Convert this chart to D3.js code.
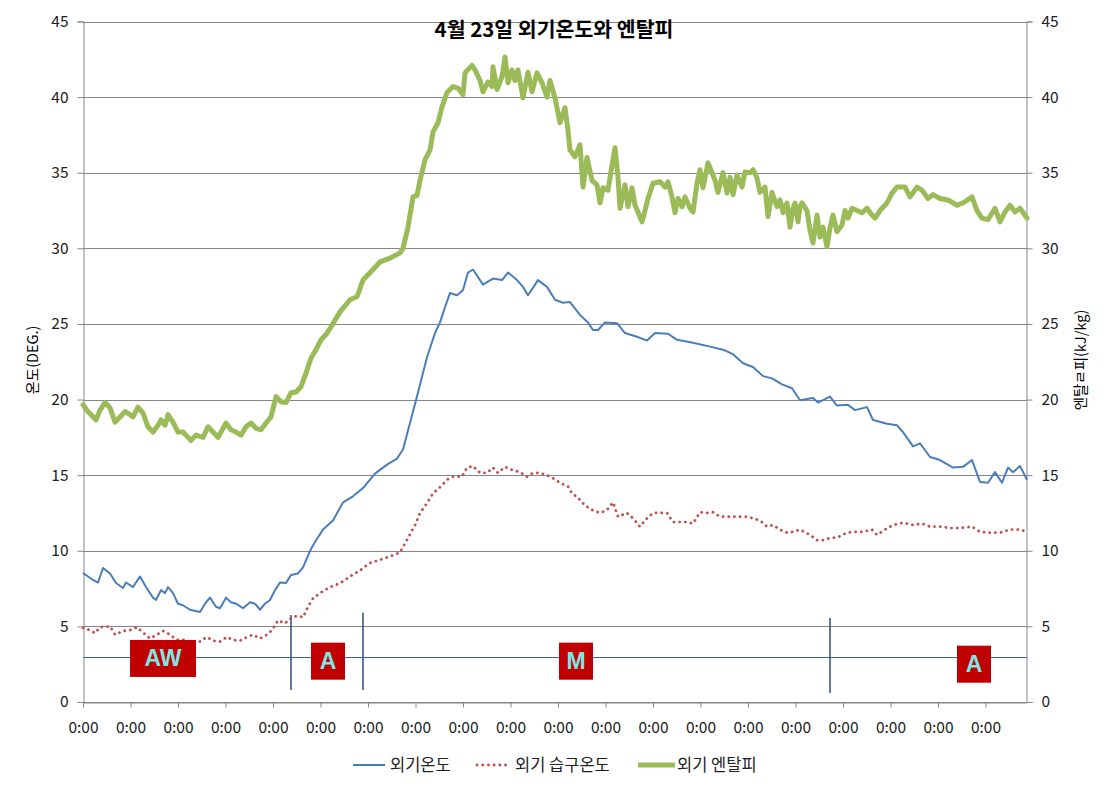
<!DOCTYPE html>
<html><head><meta charset="utf-8">
<script src="https://cdn.jsdelivr.net/npm/d3@7"></script>
<style>
body{margin:0;background:#fff;}
text{font-family:"Noto Sans CJK KR","Noto Sans",sans-serif;}
</style></head>
<body><svg id="c" width="1110" height="788"></svg>
<script>
const title = "4월 23일 외기온도와 엔탈피";
const leftAxisTitle = "온도(DEG.)";
const rightAxisTitle = "엔탈ㄹ피(kJ/kg)";
const seriesNames = ["외기온도", "외기 습구온도", "외기 엔탈피"];
const xTickLabels = Array(20).fill("0:00");
const xTickStep = 47.5;       // samples between category labels
const xSampleCount = 944;
const yTicks = [0,5,10,15,20,25,30,35,40,45];

// [sample index, value]
const outdoorTemp = [[0,8.53],[10,8.07],[15,7.9],[20,8.86],[27,8.5],[33,7.87],[40,7.54],[43,7.9],[50,7.6],[57,8.3],[63,7.6],[70,6.9],[73,6.75],[78,7.4],[82,7.2],[85,7.6],[90,7.2],[95,6.5],[100,6.4],[107,6.1],[117,5.95],[122,6.5],[127,6.9],[133,6.3],[137,6.2],[143,6.9],[148,6.6],[153,6.5],[160,6.2],[167,6.6],[172,6.5],[177,6.1],[182,6.5],[187,6.75],[192,7.4],[197,7.9],[203,7.87],[208,8.4],[215,8.5],[220,8.9],[227,10.0],[233,10.7],[240,11.4],[250,12.0],[260,13.2],[270,13.6],[280,14.15],[292,15.1],[304,15.7],[314,16.1],[320,16.7],[327,18.45],[334,20.2],[344,22.8],[352,24.4],[357,25.1],[362,26.1],[367,27.05],[374,26.9],[380,27.25],[385,28.4],[390,28.6],[400,27.6],[410,28.0],[419,27.9],[425,28.4],[434,27.9],[440,27.45],[445,26.9],[455,27.9],[464,27.45],[472,26.6],[480,26.4],[487,26.45],[497,25.6],[505,25.1],[510,24.6],[515,24.6],[522,25.1],[534,25.05],[542,24.4],[554,24.15],[564,23.9],[572,24.4],[585,24.35],[594,23.95],[610,23.75],[627,23.5],[640,23.3],[650,23.0],[660,22.4],[670,22.15],[680,21.55],[689,21.4],[699,21.0],[709,20.75],[717,19.95],[730,20.1],[735,19.8],[747,20.2],[754,19.6],[765,19.65],[772,19.3],[784,19.5],[790,18.65],[804,18.4],[814,18.3],[820,17.85],[830,16.9],[837,17.1],[847,16.2],[857,16.0],[870,15.5],[880,15.55],[889,16.0],[897,14.55],[905,14.5],[912,15.2],[919,14.5],[925,15.5],[930,15.2],[937,15.6],[944,14.7]];

const wetBulbTemp = [[0,4.9],[7,4.75],[12,4.55],[17,4.95],[27,5.0],[32,4.45],[40,4.7],[47,4.75],[54,4.95],[60,4.6],[67,4.2],[74,4.45],[80,4.7],[87,4.45],[94,4.1],[102,4.1],[110,3.9],[117,4.0],[124,4.3],[130,4.05],[137,4.0],[144,4.3],[150,4.1],[157,4.05],[164,4.3],[170,4.45],[177,4.2],[184,4.45],[189,4.75],[195,5.4],[202,5.2],[209,5.6],[215,5.7],[220,5.6],[225,6.3],[230,6.85],[237,7.2],[247,7.6],[257,7.85],[267,8.3],[277,8.7],[287,9.2],[297,9.4],[310,9.7],[317,9.9],[325,10.85],[332,11.7],[337,12.5],[344,13.15],[350,13.8],[357,14.2],[364,14.7],[370,14.9],[379,14.9],[384,15.5],[390,15.6],[397,15.15],[404,15.15],[410,15.5],[415,15.15],[422,15.55],[429,15.35],[437,15.2],[444,14.9],[450,15.15],[457,15.15],[464,15.0],[470,14.8],[477,14.5],[485,14.25],[489,13.8],[495,13.5],[502,13.0],[509,12.7],[517,12.5],[524,12.7],[530,13.2],[535,12.25],[544,12.5],[550,12.15],[557,11.6],[564,12.15],[570,12.5],[577,12.5],[584,12.5],[590,11.9],[597,11.9],[604,11.9],[610,11.8],[617,12.55],[624,12.5],[630,12.55],[637,12.25],[644,12.25],[650,12.25],[657,12.25],[664,12.25],[670,12.15],[677,12.0],[684,11.6],[690,11.7],[697,11.4],[704,11.2],[710,11.25],[717,11.4],[727,11.05],[734,10.7],[740,10.7],[747,10.85],[755,10.9],[764,11.2],[772,11.25],[780,11.25],[789,11.4],[794,11.05],[802,11.4],[810,11.7],[820,11.85],[830,11.7],[839,11.8],[847,11.6],[857,11.6],[867,11.5],[877,11.5],[889,11.6],[897,11.25],[907,11.2],[917,11.2],[927,11.4],[937,11.4],[944,11.25]];

const enthalpy = [[0,19.65],[5,19.2],[8,19.0],[13,18.65],[17,19.3],[22,19.8],[27,19.45],[32,18.5],[37,18.85],[42,19.2],[47,19.0],[50,18.85],[55,19.5],[60,19.1],[65,18.2],[70,17.85],[75,18.3],[78,18.65],[82,18.3],[85,19.0],[90,18.5],[95,17.85],[100,17.85],[105,17.5],[108,17.3],[113,17.65],[120,17.5],[125,18.2],[130,17.85],[135,17.5],[138,17.85],[143,18.45],[148,18.0],[153,17.85],[158,17.65],[163,18.2],[168,18.45],[173,18.1],[178,18.0],[183,18.45],[188,18.85],[193,20.2],[198,19.85],[203,19.8],[208,20.45],[213,20.5],[218,20.85],[223,21.75],[228,22.75],[233,23.3],[238,23.95],[243,24.3],[248,24.8],[257,25.8],[267,26.6],[274,26.8],[280,27.9],[290,28.6],[297,29.1],[307,29.35],[317,29.7],[320,30.0],[325,31.4],[330,33.4],[334,33.5],[337,34.5],[342,35.85],[347,36.5],[350,37.7],[355,38.3],[359,39.35],[364,40.3],[370,40.7],[375,40.6],[380,40.15],[382,41.6],[389,42.1],[392,41.8],[397,41.1],[400,40.35],[405,41.0],[409,40.7],[410,42.0],[414,40.5],[419,41.35],[422,42.65],[425,40.95],[429,41.8],[432,41.1],[435,41.8],[440,39.95],[445,41.65],[449,40.35],[454,41.6],[459,40.95],[464,40.0],[467,41.1],[472,39.95],[477,38.3],[482,39.3],[485,37.8],[487,36.5],[492,36.05],[497,36.85],[500,34.05],[504,36.0],[509,34.5],[514,34.2],[517,33.0],[520,34.0],[525,33.85],[529,35.5],[532,36.65],[535,34.7],[537,32.65],[542,34.2],[545,32.75],[549,34.0],[552,32.85],[555,32.4],[559,31.75],[562,32.5],[565,33.3],[570,34.3],[577,34.4],[582,34.05],[585,34.4],[589,33.4],[592,32.35],[595,33.3],[599,32.75],[602,33.4],[607,32.65],[610,32.4],[614,34.3],[617,35.2],[620,34.0],[625,35.65],[629,35.0],[632,34.5],[635,33.7],[640,35.0],[644,33.65],[647,34.7],[650,33.55],[654,34.85],[659,34.05],[662,35.05],[667,35.0],[670,35.2],[674,34.65],[677,33.7],[682,34.05],[685,32.1],[689,33.7],[694,32.75],[697,33.2],[700,32.35],[704,33.0],[707,31.4],[710,32.65],[712,33.0],[715,31.75],[717,32.75],[719,33.0],[724,32.5],[727,31.2],[730,30.35],[734,32.2],[737,30.75],[740,31.4],[744,30.1],[747,31.35],[750,32.2],[754,31.1],[759,31.55],[762,32.5],[765,32.0],[769,32.65],[774,32.5],[779,32.35],[784,32.65],[789,32.2],[792,32.0],[797,32.5],[804,33.0],[809,33.65],[814,34.05],[822,34.05],[827,33.4],[834,34.05],[839,33.85],[845,33.3],[850,33.55],[857,33.3],[865,33.2],[874,32.85],[880,33.0],[889,33.4],[894,32.5],[899,32.0],[905,31.9],[912,32.65],[917,31.75],[922,32.4],[927,32.85],[932,32.4],[937,32.65],[944,32.0]];

const refLevel = 3;
const markerLines = [[208,5.75,0.8],[280,5.9,0.8],[747,5.55,0.6]]; // [sample, top, bottom]
const modeLabels = ["AW","A","M","A"];
const modeX = [80,245,493,891];
const modeY = [2.88,2.7,2.7,2.5];

const svg = d3.select("#c");
const x = d3.scaleLinear().domain([0, xSampleCount]).range([83, 1027]);
const yL = d3.scaleLinear().domain([0,45]).range([702, 21.5]);
const yR = d3.scaleLinear().domain([0,45]).range([702, 21.5]);
const gridC = "#878787";

// gridlines
svg.append("g").selectAll("line").data(yTicks).join("line")
  .attr("x1", 83).attr("x2", 1027).attr("y1", d=>Math.round(yL(d))+0.5).attr("y2", d=>Math.round(yL(d))+0.5)
  .attr("stroke", gridC).attr("stroke-width", 1);

// axes
const axL = svg.append("g").attr("transform","translate(83.5,0)")
  .call(d3.axisLeft(yL).tickValues(yTicks).tickSize(6).tickPadding(9));
const axR = svg.append("g").attr("transform","translate(1026.5,0)")
  .call(d3.axisRight(yR).tickValues(yTicks).tickSize(6).tickPadding(9));
const xTickVals = xTickLabels.map((_, i) => i * xTickStep);
const axB = svg.append("g").attr("transform","translate(0,702.5)")
  .call(d3.axisBottom(x).tickValues(xTickVals).tickFormat((d,i)=>xTickLabels[i]).tickSize(5).tickPadding(14));
[axL, axR, axB].forEach(a => {
  a.select(".domain").attr("stroke", gridC);
  a.selectAll(".tick line").attr("stroke", gridC);
  a.selectAll(".tick text").attr("fill", "#222").style("font-size","15.5px")
   .style("font-family", '"Noto Sans CJK KR","Noto Sans",sans-serif');
});
axB.select(".domain").attr("d", "M83,0.5H1027");

// reference line and markers
svg.append("line").attr("x1", 83).attr("x2", 1027)
  .attr("y1", Math.round(yL(refLevel))+0.5).attr("y2", Math.round(yL(refLevel))+0.5)
  .attr("stroke", "#3E6594").attr("stroke-width", 1.2);
svg.append("g").selectAll("line").data(markerLines).join("line")
  .attr("x1", d=>x(d[0])).attr("x2", d=>x(d[0])).attr("y1", d=>yL(d[1])).attr("y2", d=>yL(d[2]))
  .attr("stroke", "#2F4C78").attr("stroke-width", 1.5);

// series
const lineL = d3.line().x(d=>x(d[0])).y(d=>yL(d[1]));
const lineR = d3.line().x(d=>x(d[0])).y(d=>yR(d[1]));
svg.append("path").datum(wetBulbTemp).attr("d", lineL).attr("fill","none")
  .attr("stroke","#C0504D").attr("stroke-width",2.8).attr("stroke-linecap","round").attr("stroke-dasharray","0.1,5.6");
svg.append("path").datum(outdoorTemp).attr("d", lineL).attr("fill","none")
  .attr("stroke","#4A7EBB").attr("stroke-width",2).attr("stroke-linejoin","round");
svg.append("path").datum(enthalpy).attr("d", lineR).attr("fill","none")
  .attr("stroke","#9BBB59").attr("stroke-width",5).attr("stroke-linejoin","round").attr("stroke-linecap","round");

// mode boxes
const bw = [66,34,34,34];
const bg = svg.append("g");
modeLabels.forEach((lab, i) => {
  const cx = x(modeX[i]), cy = yL(modeY[i]);
  bg.append("rect").attr("x", cx - bw[i]/2).attr("y", cy - 18.5).attr("width", bw[i]).attr("height", 37)
    .attr("fill", "#C00000");
  bg.append("text").attr("x", cx).attr("y", cy + 8).attr("text-anchor","middle")
    .attr("fill","#7FE6E6").style("font-family",'"Liberation Sans",Arial,sans-serif')
    .style("font-weight","bold").style("font-size","23px").text(lab);
});

// titles
svg.append("text").attr("x", 554).attr("y", 37).attr("text-anchor","middle")
  .style("font-size","20.5px").style("font-weight","bold").attr("fill","#000").text(title);
svg.append("text").attr("transform","translate(38,360) rotate(-90)").attr("text-anchor","middle")
  .style("font-size","14.5px").attr("fill","#000").text(leftAxisTitle);
svg.append("text").attr("transform","translate(1086,360) rotate(-90)").attr("text-anchor","middle")
  .style("font-size","14.5px").attr("fill","#000").text(rightAxisTitle);

// legend
const lg = svg.append("g");
const legItems = [
  {x1:353, x2:385, tx:390, stroke:"#4A7EBB", w:2, dash:null, cap:"butt"},
  {x1:477, x2:509, tx:515, stroke:"#C0504D", w:2.8, dash:"0.1,5.6", cap:"round"},
  {x1:638, x2:675, tx:677, stroke:"#9BBB59", w:5, dash:null, cap:"butt"}
];
legItems.forEach((it, i) => {
  const l = lg.append("line").attr("x1", it.x1).attr("x2", it.x2).attr("y1", 765).attr("y2", 765)
    .attr("stroke", it.stroke).attr("stroke-width", it.w).attr("stroke-linecap", it.cap);
  if (it.dash) l.attr("stroke-dasharray", it.dash);
  lg.append("text").attr("x", it.tx).attr("y", 771).style("font-size","16.5px").attr("fill","#222").text(seriesNames[i]);
});
</script></body></html>
